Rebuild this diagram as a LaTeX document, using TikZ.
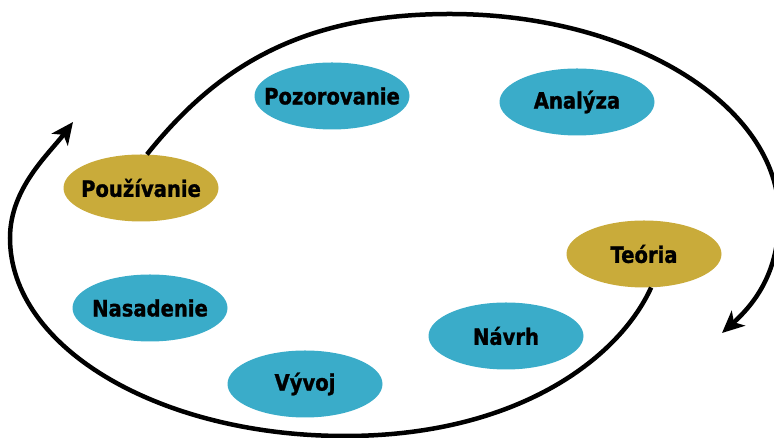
\documentclass[tikz,border=0pt]{standalone}
\usepackage{fontspec}
\usepackage{tikz}
\usetikzlibrary{shapes.geometric,arrows.meta}
\newfontfamily\lblfont[FakeStretch=0.87,FakeBold=1.2]{DejaVu Sans Bold}
\definecolor{phaseblue}{RGB}{58,172,201}
\definecolor{phasegold}{RGB}{201,171,58}

\begin{document}
\begin{tikzpicture}[x=1pt,y=1pt,
		phase/.style={ellipse,fill=phaseblue,minimum width=155pt,minimum height=67pt,inner xsep=-25pt,inner ysep=0pt,
			font=\lblfont\fontsize{22.5}{24}\selectfont},
		goldphase/.style={phase,fill=phasegold},
		cyc/.style={line width=4.5pt,-{Stealth[length=22pt,width=20pt,inset=6pt]}}]
			\useasboundingbox (0,0) rectangle (774,438);
			\clip (0,0) rectangle (774,438);
			% phases
			\node[phase] (pozor) at (332,342) {Pozorovanie};
			\node[phase] (anal) at (577,336) {Analýza};
			\node[goldphase] (pouz) at (141,250) {Používanie};
			\node[goldphase] (teor) at (644,184) {Teória};
			\node[phase] (nasad) at (150,130) {Nasadenie};
			\node[phase] (navrh) at (506,102) {Návrh};
			\node[phase] (vyvoj) at (305,54) {Vývoj};
			% outer arcs
			\coordinate (top) at (450,424);
			\coordinate (east) at (779,222);
			\coordinate (tipR) at (722,105);
			\coordinate (bot) at (345,2);
			\coordinate (west) at (10,200);
			\coordinate (tipL) at (73,316);
			\draw[cyc] (pouz.80) .. controls (216,370) and (300,424) .. (top)
				.. controls (631,424) and (779,333) .. (east) to[out=-90,in=42] (tipR);
			\draw[cyc] (teor.-78) .. controls (618,78) and (515,2) .. (bot)
				.. controls (160,2) and (10,90) .. (west) .. controls (10,250) and (49,284) .. (tipL);
	\end{tikzpicture}
\end{document}
